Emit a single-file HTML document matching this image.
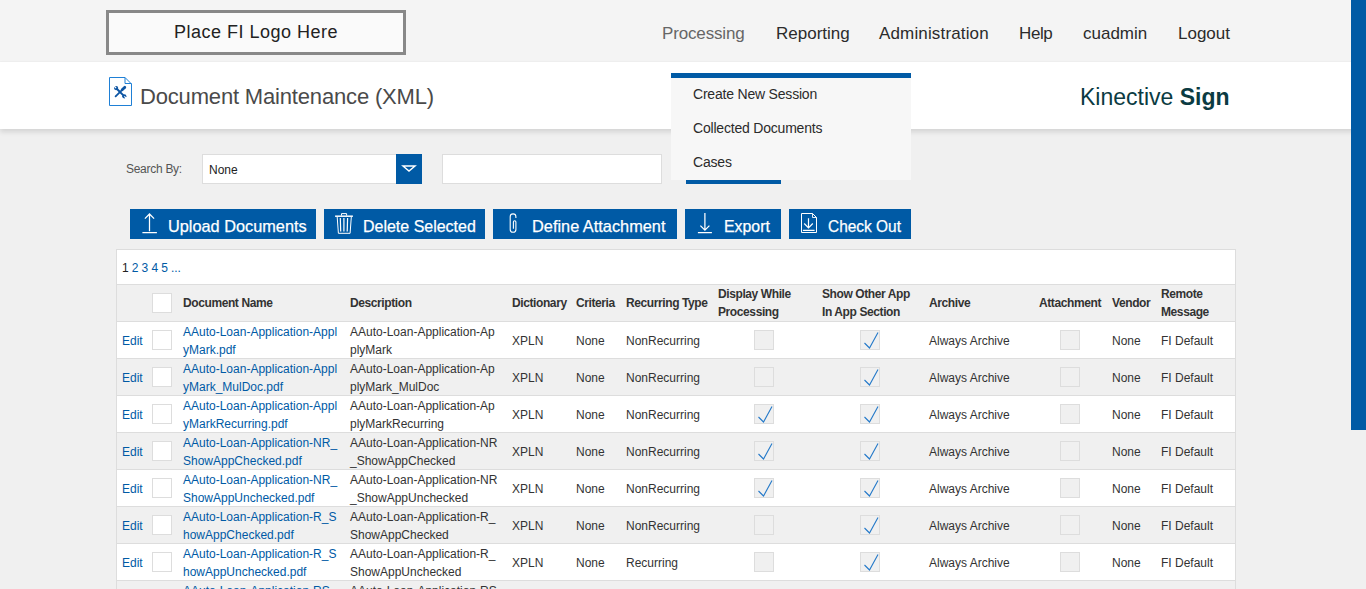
<!DOCTYPE html>
<html><head><meta charset="utf-8">
<style>
*{box-sizing:border-box;margin:0;padding:0}
html,body{width:1366px;height:589px;overflow:hidden;background:#f0f0f0;font-family:"Liberation Sans",Arial,sans-serif;color:#333}
.abs{position:absolute;white-space:nowrap}
#top{position:absolute;left:0;top:0;width:1366px;height:61px;background:#f4f4f4}
#logo{position:absolute;left:106px;top:10px;width:300px;height:45px;border:3px solid #888;background:#fafafa}
#logo span{position:absolute;left:65px;top:9px;font-size:18px;color:#222;letter-spacing:.5px}
.nav{position:absolute;top:24px;font-size:17px;color:#2b2b2b;line-height:20px}
#band{position:absolute;left:0;top:62px;width:1366px;height:67px;background:#fff;box-shadow:0 3px 5px rgba(0,0,0,.12)}
#title{position:absolute;left:140px;top:84px;font-size:22px;color:#4a4a4a;line-height:26px;letter-spacing:-.17px}
#brand{position:absolute;left:1080px;top:83px;font-size:23px;color:#0b3b42;line-height:28px}
#brand b{font-weight:700}
#sb{position:absolute;left:126px;top:162px;font-size:12px;color:#555;letter-spacing:-.28px}
#sel{position:absolute;left:202px;top:154px;width:220px;height:30px;border:1px solid #ddd;background:#fff}
#sel span{position:absolute;left:6px;top:8px;font-size:12px;color:#222}
#selbtn{position:absolute;left:396px;top:154px;width:26px;height:30px;background:#005aa5}
#inp{position:absolute;left:442px;top:154px;width:220px;height:30px;border:1px solid #ddd;background:#fff}
#bluebar{position:absolute;left:686px;top:180px;width:95px;height:4px;background:#005aa5}
#dd{position:absolute;left:671px;top:73px;width:240px;height:107px;background:#f7f7f7;border-top:5px solid #005aa5}
#dd div{position:absolute;left:22px;font-size:14px;color:#2b2b2b;line-height:18px;letter-spacing:-.2px}
.btn{position:absolute;top:209px;height:30px;background:#005aa5;color:#fff}
.btn span{position:absolute;transform-origin:0 0;top:8px;font-size:17px;line-height:20px;-webkit-text-stroke:.25px #fff}
.btn svg{position:absolute}
#scroll{position:absolute;left:1351px;top:0;width:15px;height:430px;background:#005aa5}
#tbl{position:absolute;left:116px;top:249px;width:1120px;background:#fff;border:1px solid #ddd;border-bottom:none}
#pg{height:35px;border-bottom:1px solid #ddd;font-size:12px;position:relative}
#pg span{position:absolute;top:11px;left:5px;color:#005aa5;letter-spacing:-.1px}
table{border-collapse:separate;border-spacing:0;table-layout:fixed;width:1118px;font-size:12px}
td,th{padding:0 0 0 5px;text-align:left;vertical-align:middle;line-height:18px;white-space:nowrap;overflow:hidden}
th{font-weight:700;color:#333;height:37px;letter-spacing:-.4px;border-bottom:1px solid #ddd;background:#f0f0f0}
tr.r td{height:37px;border-bottom:1px solid #ddd}
.t{position:relative;top:1px}
tr.g td{background:#f0f0f0}
a{color:#005aa5;text-decoration:none}
.cb{display:block;width:20px;height:20px;border:1px solid #ddd;background:#fff}
td.k,th.k{vertical-align:top;padding:8px 0 0 5px}
.dc{display:block;width:20px;height:20px;border:1px solid #ddd;background:#f0f0f0;position:relative}
td.c{padding:8px 0 0 0;vertical-align:top}
</style></head><body>
<div id="top"></div>
<div id="logo"><span>Place FI Logo Here</span></div>
<div class="nav" style="left:662px;color:#666;letter-spacing:-.15px">Processing</div>
<div class="nav" style="left:776px">Reporting</div>
<div class="nav" style="left:879px;letter-spacing:.15px">Administration</div>
<div class="nav" style="left:1019px;letter-spacing:-.4px">Help</div>
<div class="nav" style="left:1083px">cuadmin</div>
<div class="nav" style="left:1178px">Logout</div>
<div id="band"></div>
<svg class="abs" style="left:106px;top:74px" width="30" height="34" viewBox="106 74 30 34">
<path d="M109.5 77.5H125L131.5 84V105.5H109.5Z" fill="#fff" stroke="#1f80d6" stroke-width="1"/>
<path d="M125 77.5V83.5H131.5" fill="none" stroke="#1f80d6" stroke-width="1"/>
<path d="M117 89L123.4 95.4" stroke="#0d55a3" stroke-width="2"/>
<circle cx="116.1" cy="88.1" r="2.1" fill="#0d55a3"/><circle cx="124.3" cy="96.3" r="2.1" fill="#0d55a3"/>
<path d="M114.2 86.2L116.1 88.1M126.2 98.2L124.3 96.3" stroke="#fff" stroke-width="1.2"/>
<path d="M124.8 87.2L122.2 89.8" stroke="#0d55a3" stroke-width="2.7" stroke-linecap="round"/>
<path d="M122.2 89.8L115.6 96.4" stroke="#0d55a3" stroke-width="1.8" stroke-linecap="round"/>
</svg>
<div id="title">Document Maintenance (XML)</div>
<div id="brand">Kinective <b>Sign</b></div>

<div id="sb">Search By:</div>
<div id="sel"><span>None</span></div>
<div id="selbtn"><svg width="26" height="30"><path d="M7 12H19L13 17Z" fill="none" stroke="#fff" stroke-width="1.4"/></svg></div>
<div id="inp"></div>
<div id="bluebar"></div>

<div class="btn" style="left:130px;width:186px"><svg width="40" height="30"><path d="M19.5 4.8V22.2M14.9 9.6L19.5 5L24.1 9.6M12.4 23.5H26.9" fill="none" stroke="#fff" stroke-width="1.25"/></svg><span style="left:38px;transform:scaleX(.959)">Upload Documents</span></div>
<div class="btn" style="left:324px;width:161px"><svg width="40" height="30"><path d="M11.1 7.2H28.9" stroke="#fff" stroke-width="1.5"/><path d="M17.5 6.6V4.6H22.6V6.6M13.2 8L14.4 24.3H26.1L27.3 8" fill="none" stroke="#fff" stroke-width="1"/><path d="M16.3 9L16.7 22.4M19.9 9V22.4M23.6 9L23.2 22.4" fill="none" stroke="#fff" stroke-width="1.2"/></svg><span style="left:39px;transform:scaleX(.94)">Delete Selected</span></div>
<div class="btn" style="left:493px;width:184px"><svg width="40" height="30"><path d="M20.4 19.8V13A1.25 1.25 0 0 1 22.9 13V20.45A2.85 2.85 0 0 1 17.2 20.45V7.75A2.85 2.85 0 0 1 22.9 7.75V9" fill="none" stroke="#fff" stroke-width="1.1"/></svg><span style="left:39px;transform:scaleX(.961)">Define Attachment</span></div>
<div class="btn" style="left:685px;width:96px"><svg width="40" height="30"><path d="M19.9 4.1V21M15.4 16.6L19.9 21.1L24.4 16.6M12.9 23.7H26.9" fill="none" stroke="#fff" stroke-width="1.25"/></svg><span style="left:39px;transform:scaleX(.933)">Export</span></div>
<div class="btn" style="left:789px;width:122px"><svg width="40" height="30"><path d="M12.5 4.5H23.5L27.5 8.5V23.5H12.5Z" fill="none" stroke="#fff" stroke-width="1"/><path d="M23.5 4.5V8.5H27.5" fill="none" stroke="#fff" stroke-width=".9"/><path d="M19.5 9.2V19M15.2 14.5L19.5 18.8L23.8 14.5M13.9 21.4H25.6" fill="none" stroke="#fff" stroke-width="1.2"/></svg><span style="left:39px;transform:scaleX(.909)">Check Out</span></div>

<div id="tbl">
<div id="pg"><span><b style="font-weight:400;color:#222">1</b> 2 3 4 5 ...</span></div>
<table>
<colgroup><col style="width:30px"><col style="width:31px"><col style="width:167px"><col style="width:162px"><col style="width:64px"><col style="width:50px"><col style="width:92px"><col style="width:104px"><col style="width:107px"><col style="width:110px"><col style="width:73px"><col style="width:49px"><col style="width:79px"></colgroup>
<tr class="h"><th></th><th class="k"><span class="cb"></span></th><th>Document Name</th><th>Description</th><th>Dictionary</th><th>Criteria</th><th>Recurring Type</th><th>Display While<br>Processing</th><th>Show Other App<br>In App Section</th><th>Archive</th><th>Attachment</th><th>Vendor</th><th>Remote<br>Message</th></tr>
<tr class="r"><td><a class="t">Edit</a></td><td class="k"><span class="cb"></span></td><td><a class="t">AAuto-Loan-Application-Appl<br>yMark.pdf</a></td><td><span class="t">AAuto-Loan-Application-Ap<br>plyMark</span></td><td><span class="t">XPLN</span></td><td><span class="t">None</span></td><td><span class="t">NonRecurring</span></td><td class="c"><span class="dc" style="margin-left:41px"></span></td><td class="c"><span class="dc" style="margin-left:43px"><svg width="18" height="18" style="position:absolute;left:0;top:0"><path d="M3.5 12L8.5 17L17 1.5" fill="none" stroke="#2479c9" stroke-width="1.1"/></svg></span></td><td><span class="t">Always Archive</span></td><td class="c"><span class="dc" style="margin-left:26px"></span></td><td><span class="t">None</span></td><td><span class="t">FI Default</span></td></tr>
<tr class="r g"><td><a class="t">Edit</a></td><td class="k"><span class="cb"></span></td><td><a class="t">AAuto-Loan-Application-Appl<br>yMark_MulDoc.pdf</a></td><td><span class="t">AAuto-Loan-Application-Ap<br>plyMark_MulDoc</span></td><td><span class="t">XPLN</span></td><td><span class="t">None</span></td><td><span class="t">NonRecurring</span></td><td class="c"><span class="dc" style="margin-left:41px"></span></td><td class="c"><span class="dc" style="margin-left:43px"><svg width="18" height="18" style="position:absolute;left:0;top:0"><path d="M3.5 12L8.5 17L17 1.5" fill="none" stroke="#2479c9" stroke-width="1.1"/></svg></span></td><td><span class="t">Always Archive</span></td><td class="c"><span class="dc" style="margin-left:26px"></span></td><td><span class="t">None</span></td><td><span class="t">FI Default</span></td></tr>
<tr class="r"><td><a class="t">Edit</a></td><td class="k"><span class="cb"></span></td><td><a class="t">AAuto-Loan-Application-Appl<br>yMarkRecurring.pdf</a></td><td><span class="t">AAuto-Loan-Application-Ap<br>plyMarkRecurring</span></td><td><span class="t">XPLN</span></td><td><span class="t">None</span></td><td><span class="t">NonRecurring</span></td><td class="c"><span class="dc" style="margin-left:41px"><svg width="18" height="18" style="position:absolute;left:0;top:0"><path d="M3.5 12L8.5 17L17 1.5" fill="none" stroke="#2479c9" stroke-width="1.1"/></svg></span></td><td class="c"><span class="dc" style="margin-left:43px"><svg width="18" height="18" style="position:absolute;left:0;top:0"><path d="M3.5 12L8.5 17L17 1.5" fill="none" stroke="#2479c9" stroke-width="1.1"/></svg></span></td><td><span class="t">Always Archive</span></td><td class="c"><span class="dc" style="margin-left:26px"></span></td><td><span class="t">None</span></td><td><span class="t">FI Default</span></td></tr>
<tr class="r g"><td><a class="t">Edit</a></td><td class="k"><span class="cb"></span></td><td><a class="t">AAuto-Loan-Application-NR_<br>ShowAppChecked.pdf</a></td><td><span class="t">AAuto-Loan-Application-NR<br>_ShowAppChecked</span></td><td><span class="t">XPLN</span></td><td><span class="t">None</span></td><td><span class="t">NonRecurring</span></td><td class="c"><span class="dc" style="margin-left:41px"><svg width="18" height="18" style="position:absolute;left:0;top:0"><path d="M3.5 12L8.5 17L17 1.5" fill="none" stroke="#2479c9" stroke-width="1.1"/></svg></span></td><td class="c"><span class="dc" style="margin-left:43px"><svg width="18" height="18" style="position:absolute;left:0;top:0"><path d="M3.5 12L8.5 17L17 1.5" fill="none" stroke="#2479c9" stroke-width="1.1"/></svg></span></td><td><span class="t">Always Archive</span></td><td class="c"><span class="dc" style="margin-left:26px"></span></td><td><span class="t">None</span></td><td><span class="t">FI Default</span></td></tr>
<tr class="r"><td><a class="t">Edit</a></td><td class="k"><span class="cb"></span></td><td><a class="t">AAuto-Loan-Application-NR_<br>ShowAppUnchecked.pdf</a></td><td><span class="t">AAuto-Loan-Application-NR<br>_ShowAppUnchecked</span></td><td><span class="t">XPLN</span></td><td><span class="t">None</span></td><td><span class="t">NonRecurring</span></td><td class="c"><span class="dc" style="margin-left:41px"><svg width="18" height="18" style="position:absolute;left:0;top:0"><path d="M3.5 12L8.5 17L17 1.5" fill="none" stroke="#2479c9" stroke-width="1.1"/></svg></span></td><td class="c"><span class="dc" style="margin-left:43px"><svg width="18" height="18" style="position:absolute;left:0;top:0"><path d="M3.5 12L8.5 17L17 1.5" fill="none" stroke="#2479c9" stroke-width="1.1"/></svg></span></td><td><span class="t">Always Archive</span></td><td class="c"><span class="dc" style="margin-left:26px"></span></td><td><span class="t">None</span></td><td><span class="t">FI Default</span></td></tr>
<tr class="r g"><td><a class="t">Edit</a></td><td class="k"><span class="cb"></span></td><td><a class="t">AAuto-Loan-Application-R_S<br>howAppChecked.pdf</a></td><td><span class="t">AAuto-Loan-Application-R_<br>ShowAppChecked</span></td><td><span class="t">XPLN</span></td><td><span class="t">None</span></td><td><span class="t">NonRecurring</span></td><td class="c"><span class="dc" style="margin-left:41px"></span></td><td class="c"><span class="dc" style="margin-left:43px"><svg width="18" height="18" style="position:absolute;left:0;top:0"><path d="M3.5 12L8.5 17L17 1.5" fill="none" stroke="#2479c9" stroke-width="1.1"/></svg></span></td><td><span class="t">Always Archive</span></td><td class="c"><span class="dc" style="margin-left:26px"></span></td><td><span class="t">None</span></td><td><span class="t">FI Default</span></td></tr>
<tr class="r"><td><a class="t">Edit</a></td><td class="k"><span class="cb"></span></td><td><a class="t">AAuto-Loan-Application-R_S<br>howAppUnchecked.pdf</a></td><td><span class="t">AAuto-Loan-Application-R_<br>ShowAppUnchecked</span></td><td><span class="t">XPLN</span></td><td><span class="t">None</span></td><td><span class="t">Recurring</span></td><td class="c"><span class="dc" style="margin-left:41px"></span></td><td class="c"><span class="dc" style="margin-left:43px"><svg width="18" height="18" style="position:absolute;left:0;top:0"><path d="M3.5 12L8.5 17L17 1.5" fill="none" stroke="#2479c9" stroke-width="1.1"/></svg></span></td><td><span class="t">Always Archive</span></td><td class="c"><span class="dc" style="margin-left:26px"></span></td><td><span class="t">None</span></td><td><span class="t">FI Default</span></td></tr>
<tr class="r g"><td><a class="t">Edit</a></td><td class="k"><span class="cb"></span></td><td><a class="t">AAuto-Loan-Application-RS<br>Checked.pdf</a></td><td><span class="t">AAuto-Loan-Application-RS<br>Checked</span></td><td><span class="t">XPLN</span></td><td><span class="t">None</span></td><td><span class="t">Recurring</span></td><td class="c"><span class="dc" style="margin-left:41px"></span></td><td class="c"><span class="dc" style="margin-left:43px"><svg width="18" height="18" style="position:absolute;left:0;top:0"><path d="M3.5 12L8.5 17L17 1.5" fill="none" stroke="#2479c9" stroke-width="1.1"/></svg></span></td><td><span class="t">Always Archive</span></td><td class="c"><span class="dc" style="margin-left:26px"></span></td><td><span class="t">None</span></td><td><span class="t">FI Default</span></td></tr>
</table>
</div>

<div id="dd">
<div style="top:7px">Create New Session</div>
<div style="top:41px">Collected Documents</div>
<div style="top:75px">Cases</div>
</div>
<div id="scroll"></div>
</body></html>
